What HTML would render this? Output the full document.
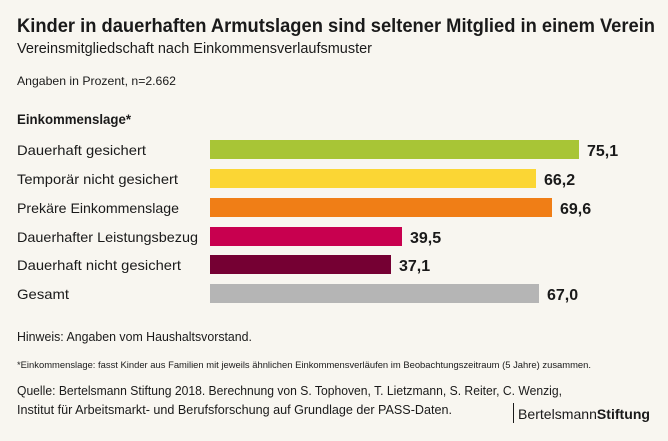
<!DOCTYPE html>
<html><head><meta charset="utf-8"><style>
html,body{margin:0;padding:0;background:#f8f6f0;}
svg{display:block;font-family:"Liberation Sans",sans-serif;}
</style></head><body>
<svg width="668" height="441" viewBox="0 0 668 441" xmlns="http://www.w3.org/2000/svg">
<rect width="668" height="441" fill="#f8f6f0"/>
<g fill="#1a1a1a">
<text x="17" y="32" font-size="19" font-weight="bold" textLength="638" lengthAdjust="spacingAndGlyphs">Kinder in dauerhaften Armutslagen sind seltener Mitglied in einem Verein</text>
<text x="17" y="53" font-size="15" textLength="355" lengthAdjust="spacingAndGlyphs">Vereinsmitgliedschaft nach Einkommensverlaufsmuster</text>
<text x="17" y="85" font-size="12" textLength="159" lengthAdjust="spacingAndGlyphs">Angaben in Prozent, n=2.662</text>
<text x="17" y="124" font-size="14" font-weight="bold" textLength="114" lengthAdjust="spacingAndGlyphs">Einkommenslage*</text>
<g font-size="14">
<text x="17" y="155" textLength="129" lengthAdjust="spacingAndGlyphs">Dauerhaft gesichert</text>
<text x="17" y="184" textLength="161" lengthAdjust="spacingAndGlyphs">Temporär nicht gesichert</text>
<text x="17" y="213" textLength="162" lengthAdjust="spacingAndGlyphs">Prekäre Einkommenslage</text>
<text x="17" y="242" textLength="181" lengthAdjust="spacingAndGlyphs">Dauerhafter Leistungsbezug</text>
<text x="17" y="270" textLength="164" lengthAdjust="spacingAndGlyphs">Dauerhaft nicht gesichert</text>
<text x="17" y="299" textLength="52" lengthAdjust="spacingAndGlyphs">Gesamt</text>
</g>
</g>
<rect x="210" y="140" width="369" height="19" fill="#a8c536"/>
<rect x="210" y="169" width="326" height="19" fill="#fbd634"/>
<rect x="210" y="198" width="342" height="19" fill="#f07e16"/>
<rect x="210" y="227" width="192" height="19" fill="#c8004f"/>
<rect x="210" y="255" width="181" height="19" fill="#750033"/>
<rect x="210" y="284" width="329" height="19" fill="#b5b5b5"/>
<g font-size="16" font-weight="bold" fill="#1a1a1a">
<text x="587" y="156">75,1</text>
<text x="544" y="185">66,2</text>
<text x="560" y="214">69,6</text>
<text x="410" y="243">39,5</text>
<text x="399" y="271">37,1</text>
<text x="547" y="300">67,0</text>
</g>
<g fill="#1a1a1a">
<text x="17" y="341" font-size="13" textLength="235" lengthAdjust="spacingAndGlyphs">Hinweis: Angaben vom Haushaltsvorstand.</text>
<text x="17" y="368" font-size="9.5" textLength="574" lengthAdjust="spacingAndGlyphs">*Einkommenslage: fasst Kinder aus Familien mit jeweils ähnlichen Einkommensverläufen im Beobachtungszeitraum (5 Jahre) zusammen.</text>
<text x="17" y="395" font-size="13" textLength="545" lengthAdjust="spacingAndGlyphs">Quelle: Bertelsmann Stiftung 2018. Berechnung von S. Tophoven, T. Lietzmann, S. Reiter, C. Wenzig,</text>
<text x="17" y="414" font-size="13" textLength="435" lengthAdjust="spacingAndGlyphs">Institut für Arbeitsmarkt- und Berufsforschung auf Grundlage der PASS-Daten.</text>
<rect x="513" y="403" width="1" height="20" fill="#1a1a1a"/>
<text x="518" y="419" font-size="14" textLength="132" lengthAdjust="spacingAndGlyphs">Bertelsmann<tspan font-weight="bold">Stiftung</tspan></text>
</g>
</svg>
</body></html>
